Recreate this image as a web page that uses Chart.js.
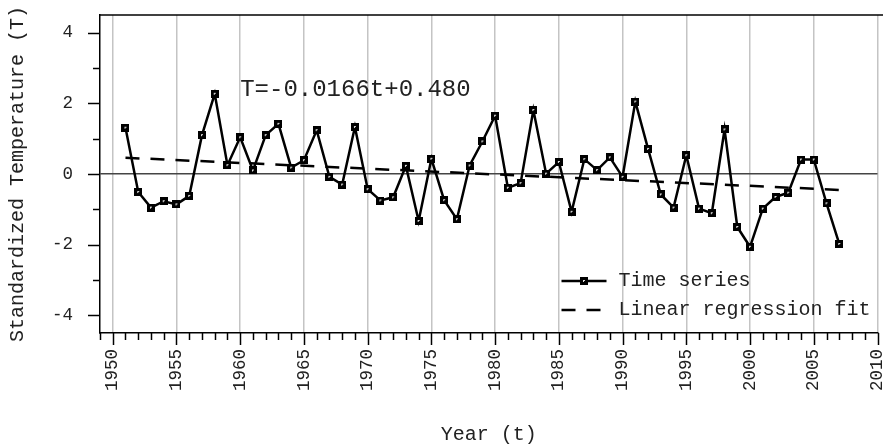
<!DOCTYPE html>
<html>
<head>
<meta charset="utf-8">
<script src="https://cdn.jsdelivr.net/npm/chart.js@4.4.1/dist/chart.umd.min.js"></script>
<style>
  html, body { margin: 0; padding: 0; background: #fff; }
</style>
</head>
<body>
<canvas id="chart" width="884" height="447"></canvas>
<script>
// values
const years = [1951, 1952, 1953, 1954, 1955, 1956, 1957, 1958, 1959, 1960,
  1961, 1962, 1963, 1964, 1965, 1966, 1967, 1968, 1969, 1970,
  1971, 1972, 1973, 1974, 1975, 1976, 1977, 1978, 1979, 1980,
  1981, 1982, 1983, 1984, 1985, 1986, 1987, 1988, 1989, 1990,
  1991, 1992, 1993, 1994, 1995, 1996, 1997, 1998, 1999, 2000,
  2001, 2002, 2003, 2004, 2005, 2006, 2007]
const temps = [1.31, -0.51, -0.95, -0.77, -0.86, -0.62, 1.10, 2.27, 0.25, 1.04,
  0.10, 1.10, 1.42, 0.18, 0.39, 1.24, -0.08, -0.30, 1.33, -0.43,
  -0.75, -0.66, 0.23, -1.33, 0.43, -0.74, -1.28, 0.24, 0.92, 1.65,
  -0.39, -0.26, 1.81, 0.01, 0.34, -1.07, 0.42, 0.11, 0.47, -0.08,
  2.05, 0.71, -0.58, -0.95, 0.53, -0.98, -1.11, 1.26, -1.50, -2.06,
  -0.98, -0.65, -0.53, 0.41, 0.41, -0.83, -1.98]
const fitYears = [1951, 2007]
const fitValues = [0.46, -0.45]
const xTicks = [1950, 1955, 1960, 1965, 1970, 1975, 1980, 1985, 1990, 1995, 2000, 2005, 2010]
const yTicks = [-4, -2, 0, 2, 4]
const fitText = 'T=-0.0166t+0.480'
const fitTextAt = [1960, 2.4]

const FONT = "'Liberation Mono', 'DejaVu Sans Mono', monospace"
const TEXT = '#222'
const DASH = [14, 11]

// square marker with a small light mark inside
const marker = document.createElement('canvas')
marker.width = 8
marker.height = 8
const mctx = marker.getContext('2d')
mctx.fillStyle = '#000'
mctx.fillRect(0, 0, 8, 8)
mctx.fillStyle = '#ddd'
mctx.fillRect(3, 3, 2, 1)
mctx.fillRect(3, 4, 1, 1)

const decor = {
  id: 'decor',
  afterDraw(chart) {
    const { ctx, chartArea: a, scales: { x, y } } = chart
    ctx.save()
    ctx.strokeStyle = '#000'
    ctx.lineWidth = 1.5

    // top frame
    ctx.beginPath()
    ctx.moveTo(a.left, a.top)
    ctx.lineTo(chart.width - 1, a.top)
    ctx.stroke()

    // y ticks, major every 2, minor every 1
    for (let v = Math.ceil(y.min); v <= Math.floor(y.max); v++) {
      const py = Math.round(y.getPixelForValue(v)) + 0.5
      const len = v % 2 === 0 ? 12 : 7
      ctx.beginPath()
      ctx.moveTo(a.left - len, py)
      ctx.lineTo(a.left, py)
      ctx.stroke()
    }
    // x ticks, major every 5, minor every year
    for (let t = Math.ceil(x.min); t <= Math.floor(x.max); t++) {
      const px = Math.round(x.getPixelForValue(t)) + 0.5
      const len = t % 5 === 0 ? 12 : 7
      ctx.beginPath()
      ctx.moveTo(px, a.bottom)
      ctx.lineTo(px, a.bottom + len)
      ctx.stroke()
    }

    // regression formula
    ctx.fillStyle = TEXT
    ctx.font = `24px ${FONT}`
    ctx.textBaseline = 'middle'
    ctx.textAlign = 'left'
    ctx.fillText(fitText, x.getPixelForValue(fitTextAt[0]), y.getPixelForValue(fitTextAt[1]))

    // legend inside the plot, lower right
    const ds = chart.data.datasets
    const x0 = a.right - 316, x1 = a.right - 271, tx = a.right - 259
    const rows = [a.bottom - 52, a.bottom - 23]
    ctx.font = `20px ${FONT}`
    ctx.lineWidth = 2.5
    ctx.beginPath()
    ctx.moveTo(x0, rows[0])
    ctx.lineTo(x1, rows[0])
    ctx.stroke()
    ctx.drawImage(marker, Math.round((x0 + x1) / 2) - 4, Math.round(rows[0]) - 4)
    ctx.fillText(ds[0].label, tx, rows[0])
    ctx.setLineDash(DASH)
    ctx.beginPath()
    ctx.moveTo(x0, rows[1])
    ctx.lineTo(x1, rows[1])
    ctx.stroke()
    ctx.setLineDash([])
    ctx.fillText(ds[1].label, tx, rows[1])
    ctx.restore()
  }
}

const series = years.map((t, i) => ({ x: t, y: temps[i] }))
const fit = fitYears.map((t, i) => ({ x: t, y: fitValues[i] }))

new Chart(document.getElementById('chart'), {
  type: 'line',
  data: {
    datasets: [
      {
        label: 'Time series',
        data: series,
        borderColor: '#000',
        borderWidth: 2.5,
        pointStyle: marker,
        pointRadius: 4,
        tension: 0
      },
      {
        label: 'Linear regression fit',
        data: fit,
        borderColor: '#000',
        borderWidth: 2.5,
        borderDash: DASH,
        pointRadius: 0
      }
    ]
  },
  options: {
    responsive: false,
    animation: false,
    layout: { padding: { top: 15, right: 5, left: 0, bottom: 0 } },
    plugins: {
      legend: { display: false },
      tooltip: { enabled: false }
    },
    scales: {
      x: {
        type: 'linear',
        min: 1949,
        max: 2010,
        afterBuildTicks: (s) => { s.ticks = xTicks.map(v => ({ value: v })) },
        afterFit: (s) => { s.height = 114; s.paddingLeft = 0; s.paddingRight = 0 },
        ticks: {
          minRotation: 90,
          maxRotation: 90,
          padding: 16,
          color: TEXT,
          font: { family: FONT, size: 17.5 },
          callback: (v) => String(v)
        },
        grid: { color: '#c4c4c4', lineWidth: 1.5, drawTicks: false },
        border: { display: true, color: '#000', width: 1.5 },
        title: {
          display: true,
          text: 'Year (t)',
          color: TEXT,
          font: { family: FONT, size: 20 },
          padding: { top: 0, bottom: 0 }
        }
      },
      y: {
        min: -4.5,
        max: 4.5,
        afterBuildTicks: (s) => { s.ticks = yTicks.map(v => ({ value: v })) },
        afterFit: (s) => { s.width = 100; s.paddingTop = 0; s.paddingBottom = 0 },
        ticks: {
          padding: 27,
          color: TEXT,
          font: { family: FONT, size: 17.5 },
          callback: (v) => String(v)
        },
        grid: {
          drawTicks: false,
          lineWidth: 1.5,
          color: (c) => (c.tick && c.tick.value === 0 ? '#444' : 'rgba(0,0,0,0)')
        },
        border: { display: true, color: '#000', width: 1.5 },
        title: {
          display: true,
          text: 'Standardized Temperature (T)',
          color: TEXT,
          font: { family: FONT, size: 20 },
          padding: { top: 6, bottom: 0 }
        }
      }
    }
  },
  plugins: [decor]
})
</script>
</body>
</html>
